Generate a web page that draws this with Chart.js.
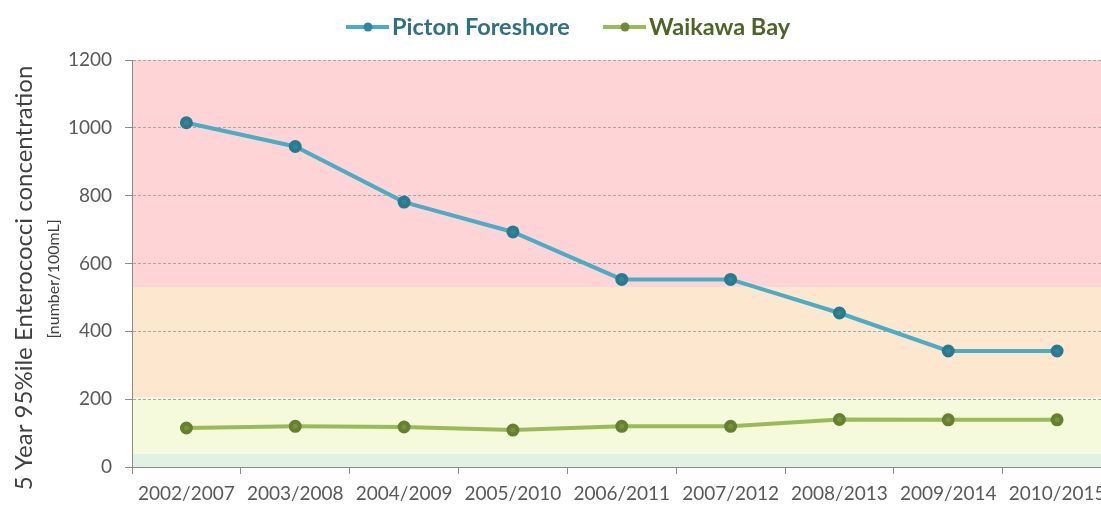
<!DOCTYPE html>
<html><head><meta charset="utf-8">
<script src="https://cdn.jsdelivr.net/npm/chart.js@4/dist/chart.umd.min.js"></script>
<style>html,body{margin:0;padding:0;overflow:hidden;background:#fff}#wrap{width:1125px;height:505px}</style>
</head><body><div id="wrap"><canvas id="c" width="1120" height="505"></canvas></div>
<script>
const categories = ['2002/2007','2003/2008','2004/2009','2005/2010','2006/2011','2007/2012','2008/2013','2009/2014','2010/2015'];
const pictonForeshore = [1015, 945, 781, 693, 553, 553, 454, 342, 342];
const waikawaBay = [115, 120, 118, 109, 120, 120, 140, 139, 139];
const yTicks = [0, 200, 400, 600, 800, 1000, 1200];
const bandLimits = [0, 40, 205, 530, 1200];
const bandColors = ['#E1F2E4', '#F6FADC', '#FDE8CF', '#FFD4D7'];

const FONT = 'Lato, "Open Sans", sans-serif';

const bands = {
  id: 'bands',
  beforeDraw(chart) {
    const {ctx, chartArea: a, scales: {y}} = chart;
    ctx.save();
    for (let i = 0; i < bandColors.length; i++) {
      const top = y.getPixelForValue(bandLimits[i + 1]);
      const bot = y.getPixelForValue(bandLimits[i]);
      ctx.fillStyle = bandColors[i];
      ctx.fillRect(a.left, top, a.right - a.left, bot - top);
    }
    ctx.restore();
  }
};

const extras = {
  id: 'extras',
  afterDraw(chart) {
    const ctx = chart.ctx;
    ctx.save();
    ctx.fillStyle = '#404040';
    ctx.textAlign = 'center';
    ctx.textBaseline = 'middle';
    ctx.translate(24, 278);
    ctx.rotate(-Math.PI / 2);
    ctx.font = '24px ' + FONT;
    ctx.fillText('5 Year 95%ile Enterococci concentration', 0, 0);
    ctx.restore();
    ctx.save();
    ctx.fillStyle = '#404040';
    ctx.textAlign = 'center';
    ctx.textBaseline = 'middle';
    ctx.translate(54, 279);
    ctx.rotate(-Math.PI / 2);
    ctx.font = '16px ' + FONT;
    ctx.fillText('[number/100mL]', 0, 0);
    ctx.restore();
    const items = [
      {text: 'Picton Foreshore', line: '#4BACC6', dot: '#31859C', color: '#2F7083', x: 346},
      {text: 'Waikawa Bay', line: '#9BBB59', dot: '#6E8A36', color: '#4F6228', x: 603}
    ];
    ctx.save();
    ctx.font = 'bold 23.5px ' + FONT;
    ctx.textBaseline = 'middle';
    items.forEach(it => {
      const y = 27;
      ctx.strokeStyle = it.line; ctx.lineWidth = 4;
      ctx.beginPath(); ctx.moveTo(it.x, y); ctx.lineTo(it.x + 43, y); ctx.stroke();
      ctx.fillStyle = it.dot;
      ctx.beginPath(); ctx.arc(it.x + 22, y, 4.5, 0, Math.PI * 2); ctx.fill();
      ctx.fillStyle = it.color;
      ctx.textAlign = 'left';
      ctx.fillText(it.text, it.x + 46, y);
    });
    ctx.restore();
  }
};

new Chart(document.getElementById('c'), {
  type: 'line',
  data: {
    labels: categories,
    datasets: [
      {label: 'Picton Foreshore', data: pictonForeshore, borderColor: '#4BACC6', backgroundColor: '#31859C',
       pointBackgroundColor: '#31859C', pointBorderColor: '#2A7A8E', pointRadius: 4.5, borderWidth: 4, tension: 0},
      {label: 'Waikawa Bay', data: waikawaBay, borderColor: '#9BBB59', backgroundColor: '#77933C',
       pointBackgroundColor: '#77933C', pointBorderColor: '#66802F', pointRadius: 4.5, borderWidth: 4, tension: 0}
    ]
  },
  options: {
    responsive: false,
    animation: false,
    layout: {padding: {top: 60, right: 1, left: 0, bottom: 0}},
    plugins: {legend: {display: false}, tooltip: {enabled: false}},
    scales: {
      x: {
        offset: true,
        grid: {display: true, drawOnChartArea: false, drawTicks: true, tickLength: 7, color: '#8C8C8C', offset: true},
        border: {color: '#8C8C8C', width: 1},
        ticks: {color: '#595959', font: {size: 19, family: FONT}, padding: 8, maxRotation: 0, autoSkip: false},
        afterFit(s) { s.height = 38; }
      },
      y: {
        min: 0, max: 1200,
        afterBuildTicks(s) { s.ticks = yTicks.map(v => ({value: v})); },
        grid: {color: '#A6A6A6', tickColor: '#8C8C8C', tickLength: 7, drawTicks: true},
        border: {color: '#8C8C8C', width: 1, dash: [3, 2]},
        ticks: {color: '#595959', font: {size: 19, family: FONT}, padding: 13, callback: v => String(v)},
        afterFit(s) { s.width = 132; }
      }
    }
  },
  plugins: [bands, extras]
});
</script></body></html>
